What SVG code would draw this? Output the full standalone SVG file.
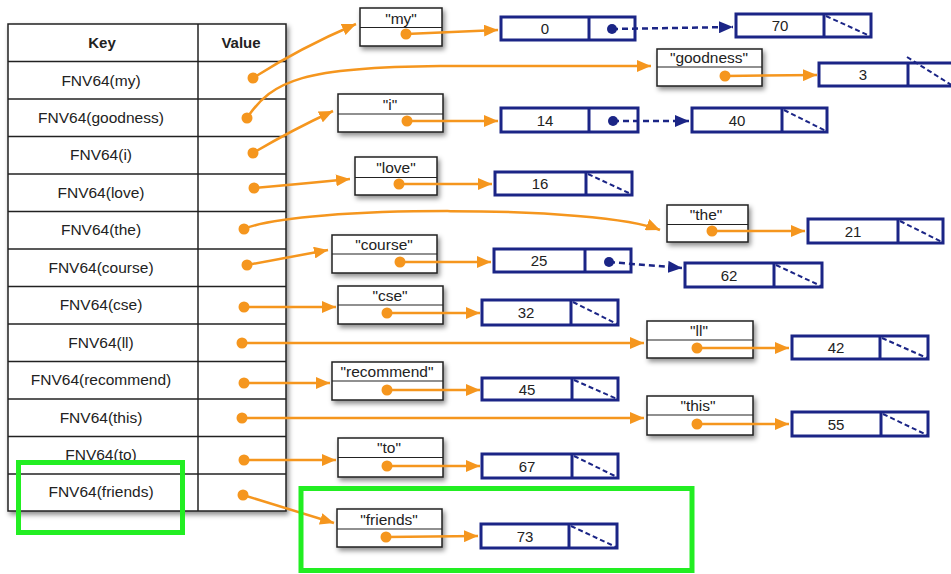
<svg xmlns="http://www.w3.org/2000/svg" width="951" height="574" viewBox="0 0 951 574">
<style>
text{font-family:"Liberation Sans",Arial,sans-serif;fill:#222;text-anchor:middle}
.k{font-size:15.5px}
.h{font-size:15px;font-weight:bold}
.v{font-size:15px}
.s{font-size:15.5px}
.sb{fill:#fff;stroke:#222;stroke-width:1.5}
.sd{stroke:#222;stroke-width:1.2}
.nb{fill:#fff;stroke:#1b2586;stroke-width:3}
.nd{stroke:#1b2586;stroke-width:3}
.nl{stroke:#1b2586;stroke-width:2;stroke-dasharray:5 3;fill:none}
.oc{fill:none;stroke:#f5961e;stroke-width:2.5;marker-end:url(#oa)}
.bc{fill:none;stroke:#1b2586;stroke-width:2.5;stroke-dasharray:6 4;marker-end:url(#ba)}
.od{fill:#f5961e}
.bd{fill:#1b2586}
.tl{stroke:#222;stroke-width:1.5}
.g{fill:none;stroke:#22ee22;stroke-width:5}
</style>
<defs>
<filter id="sh" x="-10%" y="-10%" width="130%" height="140%">
<feDropShadow dx="2" dy="3" stdDeviation="2.5" flood-color="#000" flood-opacity="0.45"/>
</filter>
<marker id="oa" viewBox="0 0 14 12" refX="14" refY="6" markerWidth="14" markerHeight="12" markerUnits="userSpaceOnUse" orient="auto"><path d="M0,0 L14,6 L0,12 z" fill="#f5961e"/></marker>
<marker id="ba" viewBox="0 0 14 12" refX="14" refY="6" markerWidth="14" markerHeight="12" markerUnits="userSpaceOnUse" orient="auto"><path d="M0,0 L14,6 L0,12 z" fill="#1b2586"/></marker>
</defs>
<rect width="951" height="574" fill="#fff"/>

<g id="table">
<rect x="8" y="24" width="278" height="487" fill="#fff" stroke="#222" stroke-width="1.5" filter="url(#sh)"/>
<line class="tl" x1="198" y1="24" x2="198" y2="511"/>
<line class="tl" x1="8" y1="61.5" x2="286" y2="61.5"/>
<line class="tl" x1="8" y1="99" x2="286" y2="99"/>
<line class="tl" x1="8" y1="136.5" x2="286" y2="136.5"/>
<line class="tl" x1="8" y1="174" x2="286" y2="174"/>
<line class="tl" x1="8" y1="211.5" x2="286" y2="211.5"/>
<line class="tl" x1="8" y1="249" x2="286" y2="249"/>
<line class="tl" x1="8" y1="286.5" x2="286" y2="286.5"/>
<line class="tl" x1="8" y1="324" x2="286" y2="324"/>
<line class="tl" x1="8" y1="361.5" x2="286" y2="361.5"/>
<line class="tl" x1="8" y1="399" x2="286" y2="399"/>
<line class="tl" x1="8" y1="436.5" x2="286" y2="436.5"/>
<line class="tl" x1="8" y1="474" x2="286" y2="474"/>
<text class="h" x="102" y="48">Key</text>
<text class="h" x="241" y="48">Value</text>
<text class="k" x="101" y="86">FNV64(my)</text>
<text class="k" x="101" y="123">FNV64(goodness)</text>
<text class="k" x="101" y="160">FNV64(i)</text>
<text class="k" x="101" y="198">FNV64(love)</text>
<text class="k" x="101" y="235">FNV64(the)</text>
<text class="k" x="101" y="273">FNV64(course)</text>
<text class="k" x="101" y="310">FNV64(cse)</text>
<text class="k" x="101" y="348">FNV64(ll)</text>
<text class="k" x="101" y="385">FNV64(recommend)</text>
<text class="k" x="101" y="423">FNV64(this)</text>
<text class="k" x="101" y="460">FNV64(to)</text>
<text class="k" x="101" y="497">FNV64(friends)</text>
</g>

<g id="s-my"><rect class="sb" x="360" y="8" width="82" height="38" filter="url(#sh)"/><line class="sd" x1="360" y1="27.5" x2="442" y2="27.5"/><text class="s" x="401" y="24">"my"</text></g>
<g id="s-goodness"><rect class="sb" x="657" y="49" width="105" height="37" filter="url(#sh)"/><line class="sd" x1="657" y1="67" x2="762" y2="67"/><text class="s" x="709" y="63">"goodness"</text></g>
<g id="s-i"><rect class="sb" x="338" y="94" width="105" height="38" filter="url(#sh)"/><line class="sd" x1="338" y1="114" x2="443" y2="114"/><text class="s" x="390" y="110">"i"</text></g>
<g id="s-love"><rect class="sb" x="355" y="157" width="82" height="38" filter="url(#sh)"/><line class="sd" x1="355" y1="177.5" x2="437" y2="177.5"/><text class="s" x="396" y="173">"love"</text></g>
<g id="s-the"><rect class="sb" x="667" y="205" width="81" height="37" filter="url(#sh)"/><line class="sd" x1="667" y1="224.5" x2="748" y2="224.5"/><text class="s" x="706" y="220">"the"</text></g>
<g id="s-course"><rect class="sb" x="332" y="235" width="105" height="38" filter="url(#sh)"/><line class="sd" x1="332" y1="254" x2="437" y2="254"/><text class="s" x="384" y="250">"course"</text></g>
<g id="s-cse"><rect class="sb" x="338" y="286" width="105" height="38" filter="url(#sh)"/><line class="sd" x1="338" y1="305" x2="443" y2="305"/><text class="s" x="390" y="301">"cse"</text></g>
<g id="s-ll"><rect class="sb" x="647" y="321" width="106" height="37" filter="url(#sh)"/><line class="sd" x1="647" y1="340" x2="753" y2="340"/><text class="s" x="699" y="336">"ll"</text></g>
<g id="s-recommend"><rect class="sb" x="332" y="362" width="111" height="38" filter="url(#sh)"/><line class="sd" x1="332" y1="381" x2="443" y2="381"/><text class="s" x="387" y="377">"recommend"</text></g>
<g id="s-this"><rect class="sb" x="647" y="396" width="106" height="39" filter="url(#sh)"/><line class="sd" x1="647" y1="415" x2="753" y2="415"/><text class="s" x="698" y="411">"this"</text></g>
<g id="s-to"><rect class="sb" x="338" y="438" width="105" height="39" filter="url(#sh)"/><line class="sd" x1="338" y1="457.5" x2="443" y2="457.5"/><text class="s" x="389" y="453">"to"</text></g>
<g id="s-friends"><rect class="sb" x="337" y="509" width="105" height="38" filter="url(#sh)"/><line class="sd" x1="337" y1="529" x2="442" y2="529"/><text class="s" x="389" y="525">"friends"</text></g>

<g id="n0"><rect class="nb" x="501" y="17" width="134" height="23"/><line class="nd" x1="589" y1="17" x2="589" y2="40"/><text class="v" x="545" y="34">0</text></g>
<g id="n70"><rect class="nb" x="736" y="14" width="135" height="23"/><line class="nd" x1="824" y1="14" x2="824" y2="37"/><text class="v" x="780" y="31">70</text><line class="nl" x1="826" y1="16" x2="870" y2="36"/></g>
<g id="n3"><rect class="nb" x="819" y="63" width="136" height="23"/><line class="nd" x1="908" y1="63" x2="908" y2="86"/><text class="v" x="863" y="80">3</text><line class="nl" x1="907" y1="57" x2="953" y2="86"/></g>
<g id="n14"><rect class="nb" x="501" y="108" width="137" height="24"/><line class="nd" x1="589" y1="108" x2="589" y2="132"/><text class="v" x="545" y="126">14</text></g>
<g id="n40"><rect class="nb" x="692" y="108" width="135" height="24"/><line class="nd" x1="782" y1="108" x2="782" y2="132"/><text class="v" x="737" y="126">40</text><line class="nl" x1="784" y1="110" x2="826" y2="131"/></g>
<g id="n16"><rect class="nb" x="495" y="172" width="137" height="23"/><line class="nd" x1="586" y1="172" x2="586" y2="195"/><text class="v" x="540" y="189">16</text><line class="nl" x1="588" y1="174" x2="631" y2="194"/></g>
<g id="n21"><rect class="nb" x="808" y="219" width="135" height="24"/><line class="nd" x1="898" y1="219" x2="898" y2="243"/><text class="v" x="853" y="237">21</text><line class="nl" x1="900" y1="221" x2="942" y2="242"/></g>
<g id="n25"><rect class="nb" x="494" y="249" width="137" height="23"/><line class="nd" x1="585" y1="249" x2="585" y2="272"/><text class="v" x="539" y="266">25</text></g>
<g id="n62"><rect class="nb" x="685" y="263" width="137" height="24"/><line class="nd" x1="774" y1="263" x2="774" y2="287"/><text class="v" x="729" y="281">62</text><line class="nl" x1="776" y1="265" x2="821" y2="286"/></g>
<g id="n32"><rect class="nb" x="482" y="300" width="136" height="25"/><line class="nd" x1="571" y1="300" x2="571" y2="325"/><text class="v" x="526" y="318">32</text><line class="nl" x1="573" y1="302" x2="617" y2="324"/></g>
<g id="n42"><rect class="nb" x="792" y="336" width="136" height="23"/><line class="nd" x1="880" y1="336" x2="880" y2="359"/><text class="v" x="836" y="353">42</text><line class="nl" x1="882" y1="338" x2="927" y2="358"/></g>
<g id="n45"><rect class="nb" x="482" y="378" width="136" height="22"/><line class="nd" x1="572" y1="378" x2="572" y2="400"/><text class="v" x="527" y="395">45</text><line class="nl" x1="574" y1="380" x2="617" y2="399"/></g>
<g id="n55"><rect class="nb" x="792" y="412" width="136" height="24"/><line class="nd" x1="881" y1="412" x2="881" y2="436"/><text class="v" x="836" y="430">55</text><line class="nl" x1="883" y1="414" x2="927" y2="435"/></g>
<g id="n67"><rect class="nb" x="482" y="454" width="136" height="24"/><line class="nd" x1="572" y1="454" x2="572" y2="478"/><text class="v" x="527" y="472">67</text><line class="nl" x1="574" y1="456" x2="617" y2="477"/></g>
<g id="n73"><rect class="nb" x="481" y="524" width="136" height="24"/><line class="nd" x1="569" y1="524" x2="569" y2="548"/><text class="v" x="525" y="542">73</text><line class="nl" x1="571" y1="526" x2="616" y2="547"/></g>

<g id="connectors">
<path class="oc" d="M253,78 Q300,48 356,24"/>
<path class="oc" d="M247,118 C272,80 305,67 440,66 L651,66"/>
<path class="oc" d="M253,153 Q292,130 333,111"/>
<path class="oc" d="M254,188 Q300,184 350,179"/>
<path class="oc" d="M244,229 C300,205 600,205 660,230"/>
<path class="oc" d="M247,265 L328,250"/>
<path class="oc" d="M244,307 L336,307"/>
<path class="oc" d="M242,343 L644,343"/>
<path class="oc" d="M244,383 L330,383"/>
<path class="oc" d="M242,418 L644,418"/>
<path class="oc" d="M244,460 L336,460"/>
<path class="oc" d="M243,495 L334,523"/>
<path class="oc" d="M406,34 L498,30"/>
<path class="oc" d="M725,76 L817,75"/>
<path class="oc" d="M407,121 L498,121"/>
<path class="oc" d="M399,184 L492,184"/>
<path class="oc" d="M712,231 L805,231"/>
<path class="oc" d="M400,262 L491,262"/>
<path class="oc" d="M387,313 L480,313"/>
<path class="oc" d="M697,348 L789,348"/>
<path class="oc" d="M387,390 L480,390"/>
<path class="oc" d="M697,424 L789,424"/>
<path class="oc" d="M387,466 L480,466"/>
<path class="oc" d="M386,537 L478,536"/>
<path class="bc" d="M612,29 L733,27"/>
<path class="bc" d="M613,121 L689,121"/>
<path class="bc" d="M609,262 L682,268"/>
<circle class="od" cx="253" cy="78" r="5.5"/>
<circle class="od" cx="247" cy="118" r="5.5"/>
<circle class="od" cx="253" cy="153" r="5.5"/>
<circle class="od" cx="254" cy="188" r="5.5"/>
<circle class="od" cx="244" cy="229" r="5.5"/>
<circle class="od" cx="247" cy="265" r="5.5"/>
<circle class="od" cx="244" cy="307" r="5.5"/>
<circle class="od" cx="242" cy="343" r="5.5"/>
<circle class="od" cx="244" cy="383" r="5.5"/>
<circle class="od" cx="242" cy="418" r="5.5"/>
<circle class="od" cx="244" cy="460" r="5.5"/>
<circle class="od" cx="243" cy="495" r="5.5"/>
<circle class="od" cx="406" cy="34" r="5.5"/>
<circle class="od" cx="725" cy="76" r="5.5"/>
<circle class="od" cx="407" cy="121" r="5.5"/>
<circle class="od" cx="399" cy="184" r="5.5"/>
<circle class="od" cx="712" cy="231" r="5.5"/>
<circle class="od" cx="400" cy="262" r="5.5"/>
<circle class="od" cx="387" cy="313" r="5.5"/>
<circle class="od" cx="697" cy="348" r="5.5"/>
<circle class="od" cx="387" cy="390" r="5.5"/>
<circle class="od" cx="697" cy="424" r="5.5"/>
<circle class="od" cx="387" cy="466" r="5.5"/>
<circle class="od" cx="386" cy="537" r="5.5"/>
<circle class="bd" cx="612" cy="29" r="5"/>
<circle class="bd" cx="613" cy="121" r="5"/>
<circle class="bd" cx="609" cy="262" r="5"/>
</g>

<g id="highlights">
<rect class="g" x="18.5" y="462.5" width="164" height="70"/>
<rect class="g" x="301" y="488.5" width="391" height="82"/>
</g>
</svg>
